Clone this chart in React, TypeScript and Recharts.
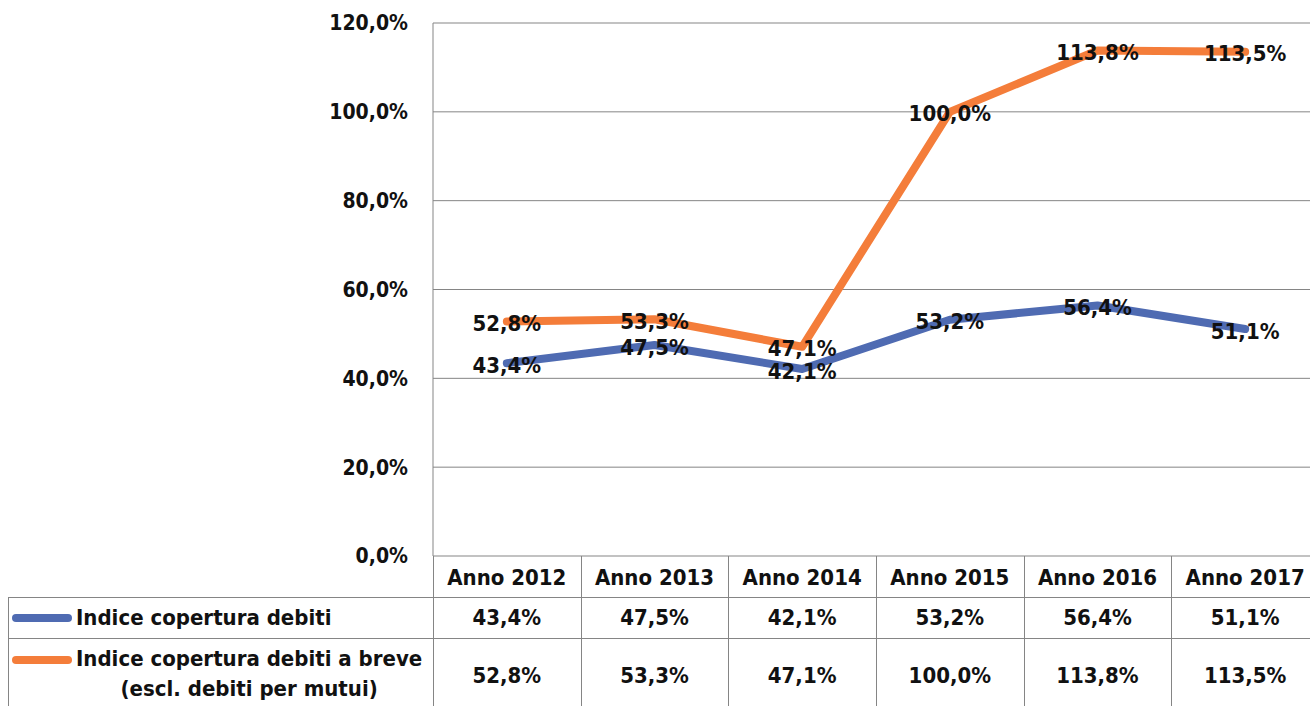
import React from 'react';
import { LineChart, Line, XAxis, YAxis, CartesianGrid, LabelList } from 'recharts';

// values
const years = ['Anno 2012', 'Anno 2013', 'Anno 2014', 'Anno 2015', 'Anno 2016', 'Anno 2017'];
const copertura = [43.4, 47.5, 42.1, 53.2, 56.4, 51.1];
const coperturaBreve = [52.8, 53.3, 47.1, 100.0, 113.8, 113.5];
const yTicks = [0, 20, 40, 60, 80, 100, 120];
const nameCopertura = ['Indice copertura debiti'];
const nameBreve = ['Indice copertura debiti a breve', '(escl. debiti per mutui)'];

const BLUE = '#4f6bb2';
const ORANGE = '#f47d3a';
const GRID = '#858585';

const FONT = "'DejaVu Sans Condensed', 'DejaVu Sans', sans-serif";
const textStyle: React.CSSProperties = {
  fontFamily: FONT,
  fontWeight: 700,
  fontStretch: 'condensed',
  fontSize: 22,
  color: '#111',
};

const PLOT_LEFT = 433;
const PLOT_RIGHT = 1319;
const PLOT_TOP = 23;
const PLOT_BOTTOM = 556;
const CHART_W = 1330;
const BOTTOM_PAD = 24;
const colW = (PLOT_RIGHT - PLOT_LEFT) / years.length;

const ROW_HEADER = [PLOT_BOTTOM + 1, 597];
const ROW_1 = [597, 638];
const ROW_2 = [638, 712];

const fmt = (v: number) => v.toFixed(1).replace('.', ',') + '%';

const data = years.map((y, i) => ({ year: y, a: copertura[i], b: coperturaBreve[i] }));

const renderLabel = (props: any) => {
  const { x, y, value } = props;
  if (x == null || y == null) return null;
  return (
    <text
      x={x}
      y={y + 2}
      textAnchor="middle"
      dominantBaseline="central"
      fill="#111"
      style={{ fontFamily: FONT, fontWeight: 700, fontStretch: 'condensed', fontSize: 22 }}
    >
      {fmt(Number(value))}
    </text>
  );
};

function HLine({ x1, x2, y }: { x1: number; x2: number; y: number }) {
  return <div style={{ position: 'absolute', left: x1, top: y, width: x2 - x1, height: 1, background: GRID }} />;
}
function VLine({ x, y1, y2 }: { x: number; y1: number; y2: number }) {
  return <div style={{ position: 'absolute', left: x, top: y1, width: 1, height: y2 - y1, background: GRID }} />;
}

function Cell({ x, w, row, children }: { x: number; w: number; row: number[]; children: React.ReactNode }) {
  return (
    <div
      style={{
        position: 'absolute',
        left: x,
        top: row[0],
        width: w,
        height: row[1] - row[0],
        display: 'flex',
        alignItems: 'center',
        justifyContent: 'center',
        background: '#fff',
        ...textStyle,
      }}
    >
      {children}
    </div>
  );
}

function LegendCell({ row, color, lines }: { row: number[]; color: string; lines: string[] }) {
  return (
    <div
      style={{
        position: 'absolute',
        left: 12,
        top: row[0],
        height: row[1] - row[0],
        display: 'flex',
        alignItems: lines.length > 1 ? 'flex-start' : 'center',
        paddingTop: lines.length > 1 ? 6 : 0,
        boxSizing: 'border-box',
        ...textStyle,
      }}
    >
      <div style={{ width: 60, height: 8, borderRadius: 4, background: color, marginRight: 4, marginTop: lines.length > 1 ? 12 : 0 }} />
      <div style={{ textAlign: 'center', lineHeight: '30px' }}>
        {lines.map((l) => (
          <div key={l}>{l}</div>
        ))}
      </div>
    </div>
  );
}

export default function App() {
  return (
    <div style={{ position: 'absolute', left: 0, top: 0, width: 1310, height: 706, overflow: 'hidden', background: '#fff' }}>
      <LineChart
        width={CHART_W}
        height={PLOT_BOTTOM + BOTTOM_PAD}
        data={data}
        margin={{ top: PLOT_TOP, right: CHART_W - PLOT_RIGHT, bottom: BOTTOM_PAD, left: 0 }}
      >
        <CartesianGrid vertical={false} stroke={GRID} strokeWidth={1} />
        <XAxis dataKey="year" hide padding={{ left: colW / 2, right: colW / 2 }} />
        <YAxis
          width={PLOT_LEFT}
          domain={[0, 120]}
          ticks={yTicks}
          interval={0}
          tickFormatter={fmt}
          tickSize={0}
          tickMargin={25}
          axisLine={{ stroke: GRID }}
          tickLine={false}
          tick={{ fill: '#111', fontFamily: FONT, fontWeight: 700, fontSize: 21, style: { fontStretch: 'condensed' } }}
        />
        <Line
          dataKey="a"
          stroke={BLUE}
          strokeWidth={8}
          strokeLinecap="round"
          strokeLinejoin="round"
          dot={false}
          isAnimationActive={false}
        >
          <LabelList dataKey="a" content={renderLabel} />
        </Line>
        <Line
          dataKey="b"
          stroke={ORANGE}
          strokeWidth={8}
          strokeLinecap="round"
          strokeLinejoin="round"
          dot={false}
          isAnimationActive={false}
        >
          <LabelList dataKey="b" content={renderLabel} />
        </Line>
      </LineChart>

      {/* data table */}
      {years.map((y, i) => (
        <Cell key={y} x={PLOT_LEFT + i * colW} w={colW} row={ROW_HEADER}>
          {y}
        </Cell>
      ))}
      {copertura.map((v, i) => (
        <Cell key={'a' + i} x={PLOT_LEFT + i * colW} w={colW} row={ROW_1}>
          {fmt(v)}
        </Cell>
      ))}
      {coperturaBreve.map((v, i) => (
        <Cell key={'b' + i} x={PLOT_LEFT + i * colW} w={colW} row={ROW_2}>
          {fmt(v)}
        </Cell>
      ))}
      <LegendCell row={ROW_1} color={BLUE} lines={nameCopertura} />
      <LegendCell row={ROW_2} color={ORANGE} lines={nameBreve} />

      <HLine x1={8} x2={PLOT_RIGHT} y={ROW_1[0]} />
      <HLine x1={8} x2={PLOT_RIGHT} y={ROW_2[0]} />
      <VLine x={8} y1={ROW_1[0]} y2={ROW_2[1]} />
      <VLine x={PLOT_LEFT} y1={PLOT_BOTTOM} y2={ROW_2[1]} />
      {years.slice(1).map((y, i) => (
        <VLine key={'v' + y} x={Math.round(PLOT_LEFT + (i + 1) * colW)} y1={PLOT_BOTTOM} y2={ROW_2[1]} />
      ))}
    </div>
  );
}
